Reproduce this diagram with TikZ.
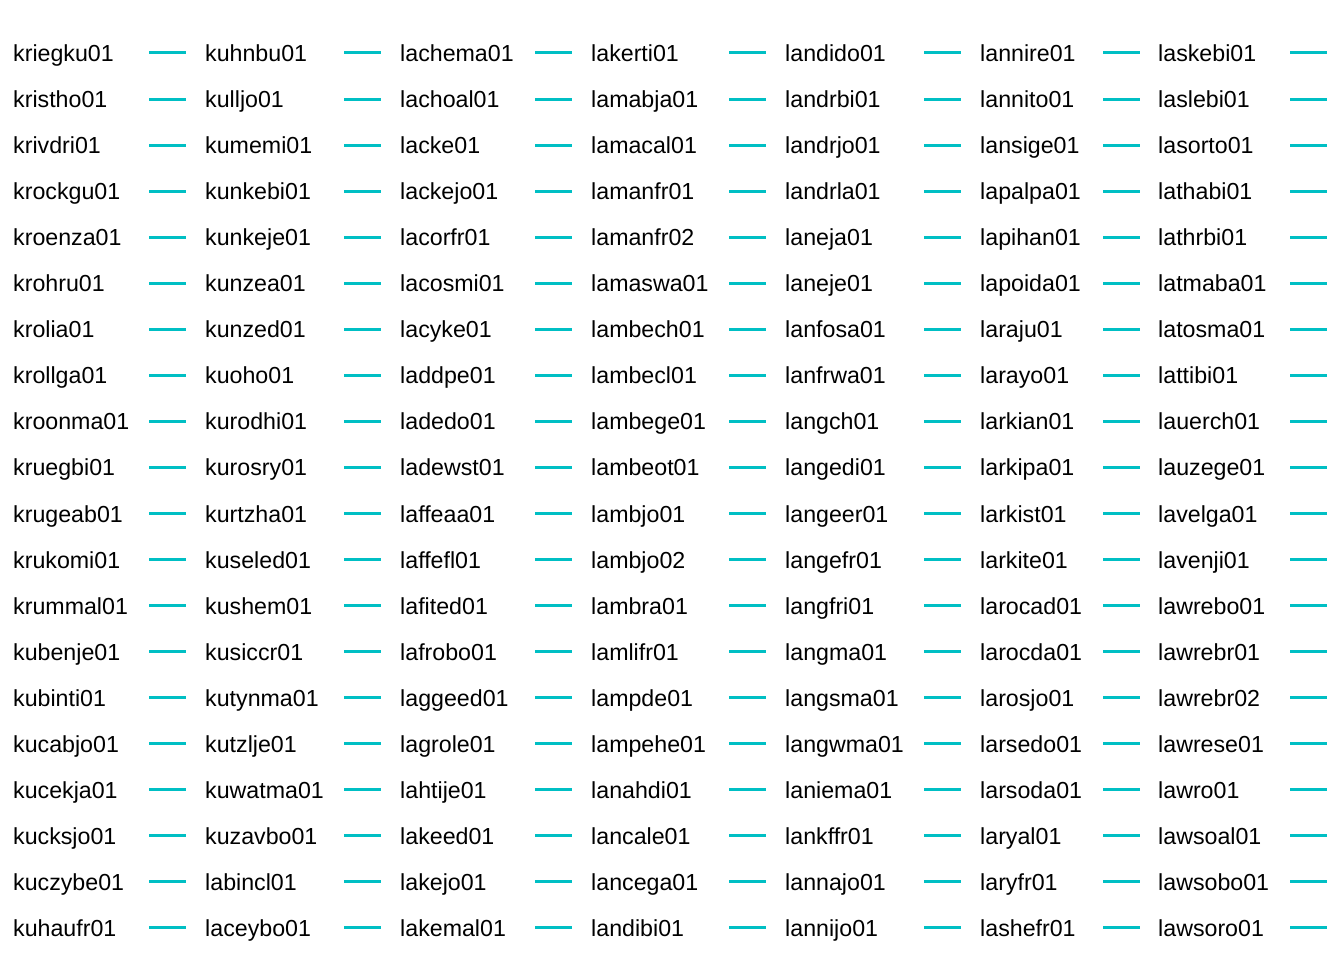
\documentclass[tikz,border=0pt]{standalone}
\usepackage{fontspec}
\setmainfont{Liberation Sans}
\definecolor{keycyan}{HTML}{00BFC4}
\tikzset{
  keylabel/.style={anchor=base west, inner sep=0pt, font=\fontsize{23.2}{28}\selectfont},
  keyline/.style={draw=keycyan, line width=3pt}
}

\begin{document}
\begin{tikzpicture}[x=1pt,y=-1pt]
   \useasboundingbox (0,0) rectangle (1344,960);

   % Legend columns: label x / key x / entries
   \foreach \lx/\kx/\names in {
      13/149/{kriegku01,kristho01,krivdri01,krockgu01,kroenza01,krohru01,krolia01,krollga01,kroonma01,kruegbi01,krugeab01,krukomi01,krummal01,kubenje01,kubinti01,kucabjo01,kucekja01,kucksjo01,kuczybe01,kuhaufr01},
      205/344/{kuhnbu01,kulljo01,kumemi01,kunkebi01,kunkeje01,kunzea01,kunzed01,kuoho01,kurodhi01,kurosry01,kurtzha01,kuseled01,kushem01,kusiccr01,kutynma01,kutzlje01,kuwatma01,kuzavbo01,labincl01,laceybo01},
      400/535/{lachema01,lachoal01,lacke01,lackejo01,lacorfr01,lacosmi01,lacyke01,laddpe01,ladedo01,ladewst01,laffeaa01,laffefl01,lafited01,lafrobo01,laggeed01,lagrole01,lahtije01,lakeed01,lakejo01,lakemal01},
      591/729/{lakerti01,lamabja01,lamacal01,lamanfr01,lamanfr02,lamaswa01,lambech01,lambecl01,lambege01,lambeot01,lambjo01,lambjo02,lambra01,lamlifr01,lampde01,lampehe01,lanahdi01,lancale01,lancega01,landibi01},
      785/924/{landido01,landrbi01,landrjo01,landrla01,laneja01,laneje01,lanfosa01,lanfrwa01,langch01,langedi01,langeer01,langefr01,langfri01,langma01,langsma01,langwma01,laniema01,lankffr01,lannajo01,lannijo01},
      980/1103/{lannire01,lannito01,lansige01,lapalpa01,lapihan01,lapoida01,laraju01,larayo01,larkian01,larkipa01,larkist01,larkite01,larocad01,larocda01,larosjo01,larsedo01,larsoda01,laryal01,laryfr01,lashefr01},
      1158/1290/{laskebi01,laslebi01,lasorto01,lathabi01,lathrbi01,latmaba01,latosma01,lattibi01,lauerch01,lauzege01,lavelga01,lavenji01,lawrebo01,lawrebr01,lawrebr02,lawrese01,lawro01,lawsoal01,lawsobo01,lawsoro01}}
     \foreach \n [count=\r from 0] in \names {
       \node[keylabel] (\n) at (\lx, 61.5+46.05*\r) {\n};
       \draw[keyline] (\kx, 53+46.05*\r) -- ++(37,0);
     }

\end{tikzpicture}
\end{document}
